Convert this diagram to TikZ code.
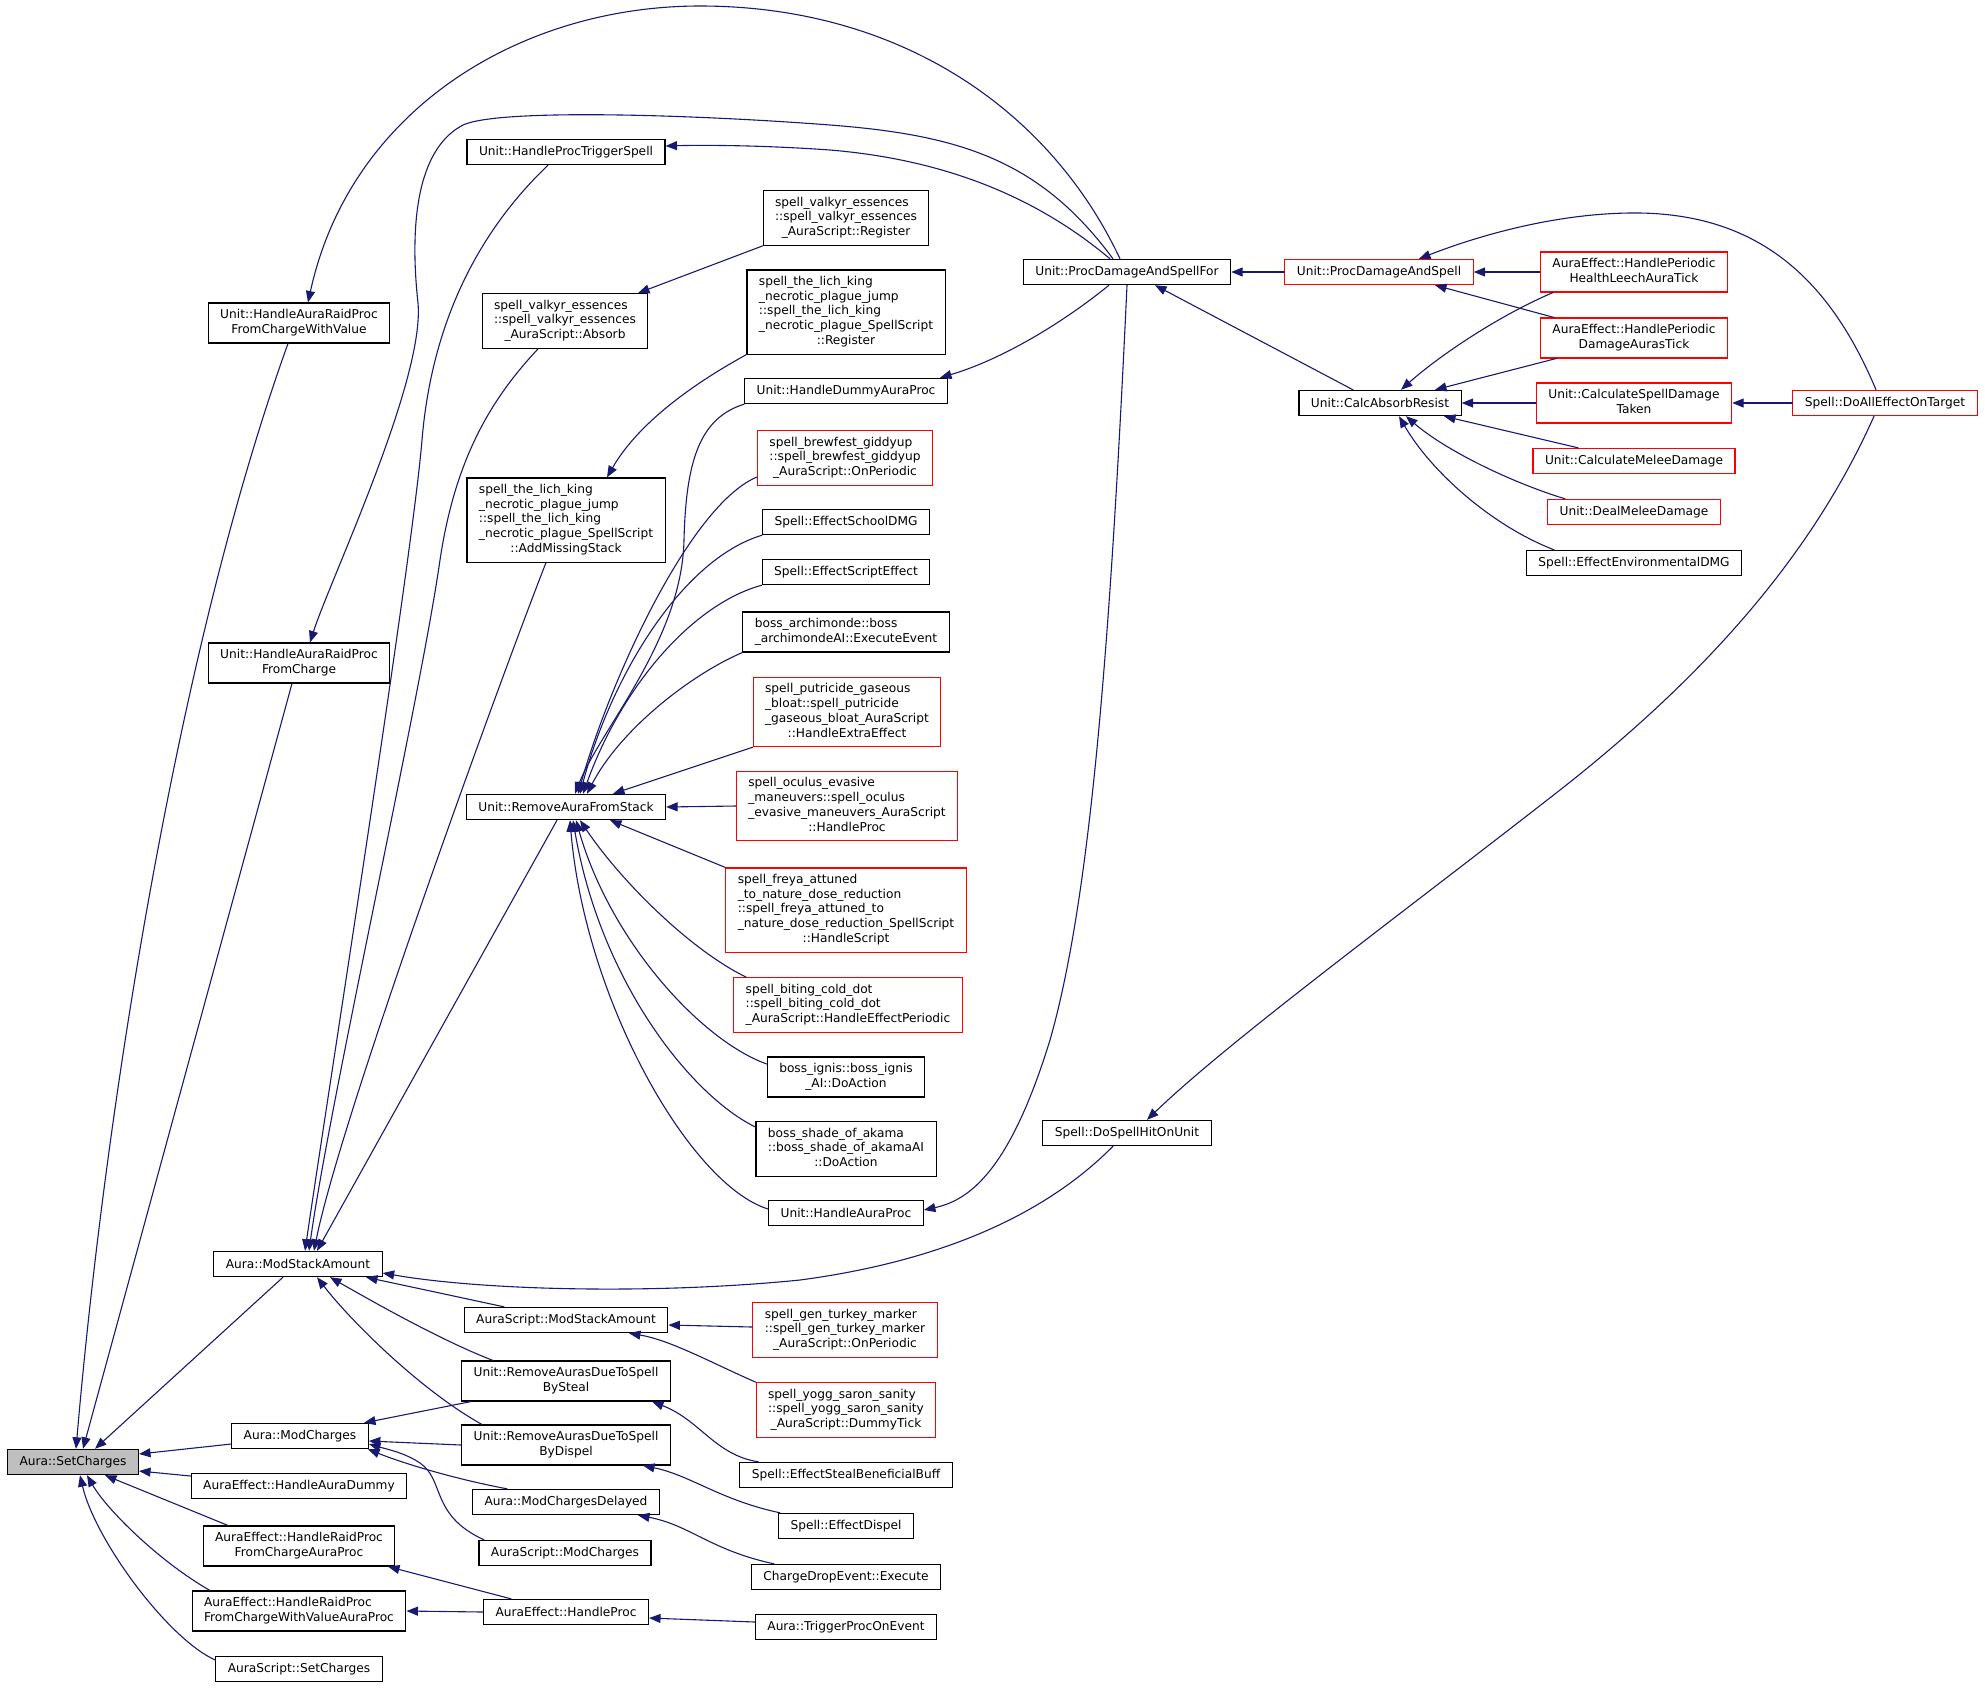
\documentclass[tikz,border=0pt]{standalone}
\usepackage{fontspec}
\setmainfont{DejaVu Sans}
\usetikzlibrary{arrows.meta}

\definecolor{midnightblue}{HTML}{191970}
\definecolor{grey75}{HTML}{BFBFBF}
% wrapped label: left lines, last line centred
\newcommand\flabel[2]{\begin{tabular}{@{}l@{}}#1\\\multicolumn{1}{@{}c@{}}{#2}\end{tabular}}

\begin{document}
\begin{tikzpicture}
		[x=1pt,y=-1pt,line cap=round,
		%Styles
		function box/.style={draw=black,line width=1.1pt,fill=white,align=center,inner xsep=12pt,inner ysep=5.3pt,minimum height=25.3pt,font=\fontsize{12.2}{14.7}\selectfont},
		truncated box/.style={function box,draw=red},
		root box/.style={function box,fill=grey75},
		call line/.style={draw=edgecolor,line width=1.1pt,-{Triangle[length=11.5pt,width=9pt]}}
		]
		
		%Colors
		\colorlet{edgecolor}{midnightblue}	%call edges
		
		\useasboundingbox (0,0) rectangle (1985,1690);
		
		%First and second column
		\node[root box] (setch) at (73,1462) {Aura::SetCharges};
		\node[function box] (harpcwv) at (299,323) {\flabel{Unit::HandleAuraRaidProc}{FromChargeWithValue}};
		\node[function box] (harpc) at (299,663) {\flabel{Unit::HandleAuraRaidProc}{FromCharge}};
		\node[function box] (modstack) at (298,1264) {Aura::ModStackAmount};
		\node[function box] (modch) at (300,1436) {Aura::ModCharges};
		\node[function box] (hadummy) at (299,1486) {AuraEffect::HandleAuraDummy};
		\node[function box] (hrpcap) at (299,1546) {\flabel{AuraEffect::HandleRaidProc}{FromChargeAuraProc}};
		\node[function box] (hrpcwvap) at (299,1611) {\flabel{AuraEffect::HandleRaidProc}{FromChargeWithValueAuraProc}};
		\node[function box] (assetch) at (299,1669) {AuraScript::SetCharges};
		
		%Third column
		\node[function box] (hpts) at (566,152) {Unit::HandleProcTriggerSpell};
		\node[function box] (absorb) at (565,321) {\flabel{spell\_valkyr\_essences\\::spell\_valkyr\_essences}{\_AuraScript::Absorb}};
		\node[function box] (addmiss) at (566,520) {\flabel{spell\_the\_lich\_king\\\_necrotic\_plague\_jump\\::spell\_the\_lich\_king\\\_necrotic\_plague\_SpellScript}{::AddMissingStack}};
		\node[function box] (rafs) at (566,807) {Unit::RemoveAuraFromStack};
		\node[function box] (asmodstack) at (566,1320) {AuraScript::ModStackAmount};
		\node[function box] (bysteal) at (566,1381) {\flabel{Unit::RemoveAurasDueToSpell}{BySteal}};
		\node[function box] (bydispel) at (566,1445) {\flabel{Unit::RemoveAurasDueToSpell}{ByDispel}};
		\node[function box] (modchdel) at (566,1502) {Aura::ModChargesDelayed};
		\node[function box] (asmodch) at (565,1553) {AuraScript::ModCharges};
		\node[function box] (aehproc) at (566,1612) {AuraEffect::HandleProc};
		
		%Fourth column
		\node[function box] (valreg) at (846,218) {\flabel{spell\_valkyr\_essences\\::spell\_valkyr\_essences}{\_AuraScript::Register}};
		\node[function box] (lichreg) at (846,312) {\flabel{spell\_the\_lich\_king\\\_necrotic\_plague\_jump\\::spell\_the\_lich\_king\\\_necrotic\_plague\_SpellScript}{::Register}};
		\node[function box] (hdap) at (846,391) {Unit::HandleDummyAuraProc};
		\node[truncated box] (brew) at (845,458) {\flabel{spell\_brewfest\_giddyup\\::spell\_brewfest\_giddyup}{\_AuraScript::OnPeriodic}};
		\node[function box] (schooldmg) at (846,522) {Spell::EffectSchoolDMG};
		\node[function box] (scripteff) at (846,572) {Spell::EffectScriptEffect};
		\node[function box] (archi) at (846,632) {\flabel{boss\_archimonde::boss}{\_archimondeAI::ExecuteEvent}};
		\node[truncated box] (putri) at (847,712) {\flabel{spell\_putricide\_gaseous\\\_bloat::spell\_putricide\\\_gaseous\_bloat\_AuraScript}{::HandleExtraEffect}};
		\node[truncated box] (oculus) at (847,806) {\flabel{spell\_oculus\_evasive\\\_maneuvers::spell\_oculus\\\_evasive\_maneuvers\_AuraScript}{::HandleProc}};
		\node[truncated box] (freya) at (846,910) {\flabel{spell\_freya\_attuned\\\_to\_nature\_dose\_reduction\\::spell\_freya\_attuned\_to\\\_nature\_dose\_reduction\_SpellScript}{::HandleScript}};
		\node[truncated box] (biting) at (848,1005) {\flabel{spell\_biting\_cold\_dot\\::spell\_biting\_cold\_dot}{\_AuraScript::HandleEffectPeriodic}};
		\node[function box] (ignis) at (846,1077) {\flabel{boss\_ignis::boss\_ignis}{\_AI::DoAction}};
		\node[function box] (akama) at (846,1149) {\flabel{boss\_shade\_of\_akama\\::boss\_shade\_of\_akamaAI}{::DoAction}};
		\node[function box] (hap) at (846,1213) {Unit::HandleAuraProc};
		\node[truncated box] (turkey) at (845,1330) {\flabel{spell\_gen\_turkey\_marker\\::spell\_gen\_turkey\_marker}{\_AuraScript::OnPeriodic}};
		\node[truncated box] (yogg) at (846,1410) {\flabel{spell\_yogg\_saron\_sanity\\::spell\_yogg\_saron\_sanity}{\_AuraScript::DummyTick}};
		\node[function box] (steal) at (846,1475) {Spell::EffectStealBeneficialBuff};
		\node[function box] (dispel) at (846,1526) {Spell::EffectDispel};
		\node[function box] (cdrop) at (846,1577) {ChargeDropEvent::Execute};
		\node[function box] (tpoe) at (846,1627) {Aura::TriggerProcOnEvent};
		
		%Right part
		\node[function box] (pdasf) at (1127,272) {Unit::ProcDamageAndSpellFor};
		\node[function box] (dshou) at (1127,1133) {Spell::DoSpellHitOnUnit};
		\node[truncated box] (pdas) at (1379,272) {Unit::ProcDamageAndSpell};
		\node[function box] (car) at (1380,403) {Unit::CalcAbsorbResist};
		\node[truncated box] (hleech) at (1634,272) {\flabel{AuraEffect::HandlePeriodic}{HealthLeechAuraTick}};
		\node[truncated box] (dmgaura) at (1634,338) {\flabel{AuraEffect::HandlePeriodic}{DamageAurasTick}};
		\node[truncated box] (csdt) at (1634,403) {\flabel{Unit::CalculateSpellDamage}{Taken}};
		\node[truncated box] (cmelee) at (1634,461) {Unit::CalculateMeleeDamage};
		\node[truncated box] (dmelee) at (1634,512) {Unit::DealMeleeDamage};
		\node[function box] (envdmg) at (1634,563) {Spell::EffectEnvironmentalDMG};
		\node[truncated box] (doall) at (1885,403) {Spell::DoAllEffectOnTarget};
		
		%Calls into Aura::SetCharges
		\draw[call line] ([xshift=-11pt]harpcwv.south) .. controls (180,643) and (106,1100) .. ([xshift=3pt]setch.north);
		\draw[call line] ([xshift=-7pt]harpc.south) -- ([xshift=10pt]setch.north);
		\draw[call line] ([xshift=-15pt]modstack.south) -- ([xshift=22pt]setch.north);
		\draw[call line] ([yshift=-8pt]modch.west) -- ([yshift=8pt]setch.east);
		\draw[call line] ([yshift=10pt]hadummy.west) -- ([yshift=-9pt]setch.east);
		\draw[call line] ([xshift=-71pt]hrpcap.north) -- ([xshift=32pt]setch.south);
		\draw[call line] ([xshift=-89pt]hrpcwvap.north) .. controls (160,1562) and (107,1510) .. ([xshift=14pt]setch.south);
		\draw[call line] ([yshift=9pt]assetch.west) .. controls (168,1639) and (95,1540) .. ([xshift=7pt]setch.south);
		
		%Calls from Unit::ProcDamageAndSpellFor
		\draw[call line] ([xshift=-7pt]pdasf.north) .. controls (1050,110) and (900,6) .. (700,6) .. controls (520,6) and (350,110) .. ([xshift=9pt]harpcwv.north);
		\draw[call line] ([xshift=-14pt]pdasf.north) .. controls (1040,160) and (960,135) .. (830,125) .. controls (700,115) and (500,108) .. (463,125) .. controls (415,150) and (410,230) .. (418,303) .. controls (425,380) and (330,580) .. ([xshift=11pt]harpc.north);
		\draw[call line] ([xshift=-17pt]pdasf.north) .. controls (1040,200) and (950,160) .. (830,150) .. controls (760,145) and (700,145) .. ([yshift=6pt]hpts.east);
		\draw[call line] ([xshift=-18pt]pdasf.south) .. controls (1060,325) and (1000,360) .. ([xshift=94pt]hdap.north);
		\draw[call line] (pdasf.south) .. controls (1110,650) and (1090,900) .. (1050,1040) .. controls (1010,1170) and (970,1200) .. ([yshift=3pt]hap.east);
		\draw[call line] (pdas.west) -- (pdasf.east);
		\draw[call line] ([xshift=-27pt]car.north) -- ([xshift=28pt]pdasf.south);
		
		%Right part
		\draw[call line] (hleech.west) -- (pdas.east);
		\draw[call line] ([xshift=-80pt]dmgaura.north) -- ([xshift=56pt]pdas.south);
		\draw[call line] ([xshift=-9pt]doall.north) .. controls (1830,280) and (1760,215) .. (1640,213) .. controls (1560,212) and (1480,235) .. ([xshift=40pt]pdas.north);
		\draw[call line] ([xshift=-81pt]hleech.south) .. controls (1500,315) and (1440,355) .. ([xshift=21pt]car.north);
		\draw[call line] ([xshift=-78pt]dmgaura.south) -- ([xshift=55pt]car.north);
		\draw[call line] (csdt.west) -- (car.east);
		\draw[call line] ([xshift=-56pt]cmelee.north) -- ([xshift=64pt]car.south);
		\draw[call line] ([xshift=-69pt]dmelee.north) .. controls (1510,482) and (1445,450) .. ([xshift=26pt]car.south);
		\draw[call line] ([xshift=-80pt]envdmg.north) .. controls (1490,525) and (1430,470) .. ([xshift=19pt]car.south);
		\draw[call line] (doall.west) -- (csdt.east);
		\draw[call line] ([xshift=-11pt]doall.south) .. controls (1810,560) and (1700,680) .. (1560,790) .. controls (1400,915) and (1230,1040) .. ([xshift=20pt]dshou.north);
		\draw[call line] ([xshift=-14pt]dshou.south) .. controls (1050,1210) and (950,1260) .. (800,1280) .. controls (650,1295) and (480,1290) .. ([yshift=-9pt]modstack.east);
		
		%Calls into Aura::ModStackAmount and Aura::ModCharges
		\draw[call line] ([xshift=-62pt]asmodstack.north) -- ([xshift=68pt]modstack.south);
		\draw[call line] ([xshift=-73pt]bysteal.north) .. controls (440,1340) and (370,1300) .. ([xshift=32pt]modstack.south);
		\draw[call line] ([xshift=-84pt]bydispel.north) .. controls (420,1390) and (350,1320) .. ([xshift=19pt]modstack.south);
		\draw[call line] ([xshift=-18pt]hpts.south) .. controls (480,230) and (432,320) .. (422,440) .. controls (412,560) and (330,1080) .. ([xshift=7pt]modstack.north);
		\draw[call line] ([xshift=-27pt]absorb.south) .. controls (490,400) and (455,460) .. (440,560) .. controls (420,700) and (330,1100) .. ([xshift=11pt]modstack.north);
		\draw[call line] ([xshift=-20pt]addmiss.south) .. controls (500,680) and (340,1120) .. ([xshift=16pt]modstack.north);
		\draw[call line] ([xshift=-9pt]rafs.south) -- ([xshift=19pt]modstack.north);
		\draw[call line] ([xshift=-95pt]bysteal.south) -- ([xshift=64pt]modch.north);
		\draw[call line] (bydispel.west) -- ([yshift=-5pt]modch.east);
		\draw[call line] ([xshift=-59pt]modchdel.north) .. controls (450,1478) and (400,1462) .. ([xshift=68pt]modch.south);
		\draw[call line] ([xshift=-81pt]asmodch.north) .. controls (430,1515) and (445,1480) .. (420,1463) .. controls (405,1453) and (390,1450) .. ([yshift=-8pt]modch.east);
		\draw[call line] ([xshift=-55pt]aehproc.north) -- ([xshift=89pt]hrpcap.south);
		\draw[call line] (aehproc.west) -- (hrpcwvap.east);
		
		%Third column callers
		\draw[call line] (valreg.south west) -- ([xshift=73pt]absorb.north);
		\draw[call line] (lichreg.south west) .. controls (700,380) and (640,420) .. ([xshift=41pt]addmiss.north);
		\draw[call line] (hdap.south west) .. controls (700,418) and (686,460) .. (684,540) .. controls (682,640) and (600,730) .. ([xshift=9pt]rafs.north);
		\draw[call line] ([yshift=-19pt]brew.west) .. controls (690,505) and (610,680) .. ([xshift=12pt]rafs.north);
		\draw[call line] (schooldmg.south west) .. controls (680,560) and (610,680) .. ([xshift=14pt]rafs.north);
		\draw[call line] (scripteff.south west) .. controls (690,605) and (620,690) .. ([xshift=17pt]rafs.north);
		\draw[call line] (archi.south west) .. controls (690,675) and (620,730) .. ([xshift=21pt]rafs.north);
		\draw[call line] (putri.south west) -- ([xshift=47pt]rafs.north);
		\draw[call line] (oculus.west) -- (rafs.east);
		\draw[call line] (freya.north west) -- ([xshift=44pt]rafs.south);
		\draw[call line] ([xshift=13pt]biting.north west) .. controls (690,950) and (620,880) .. ([xshift=14pt]rafs.south);
		\draw[call line] ([yshift=13pt]ignis.west) .. controls (700,1040) and (610,940) .. ([xshift=10pt]rafs.south);
		\draw[call line] ([yshift=22pt]akama.west) .. controls (690,1095) and (600,980) .. ([xshift=7pt]rafs.south);
		\draw[call line] ([yshift=4pt]hap.west) .. controls (690,1185) and (585,1000) .. ([xshift=4pt]rafs.south);
		\draw[call line] ([yshift=3pt]turkey.west) -- ([yshift=-5pt]asmodstack.east);
		\draw[call line] (yogg.north west) .. controls (710,1362) and (670,1340) .. ([xshift=63pt]asmodstack.south);
		\draw[call line] ([xshift=19pt]steal.north west) .. controls (715,1455) and (700,1420) .. ([xshift=86pt]bysteal.south);
		\draw[call line] ([xshift=2pt]dispel.north west) .. controls (720,1500) and (690,1475) .. ([xshift=77pt]bydispel.south);
		\draw[call line] ([xshift=23pt]cdrop.north west) .. controls (710,1550) and (690,1525) .. ([xshift=72pt]modchdel.south);
		\draw[call line] ([yshift=5pt]tpoe.west) -- ([yshift=-6pt]aehproc.east);
	\end{tikzpicture}
\end{document}
